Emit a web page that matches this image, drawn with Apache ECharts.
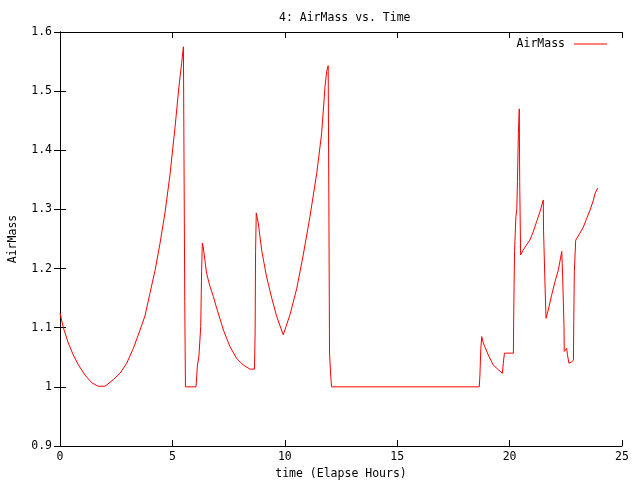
<!DOCTYPE html>
<html>
<head>
<meta charset="utf-8">
<script src="https://cdn.jsdelivr.net/npm/echarts@6/dist/echarts.min.js"></script>
<style>html,body{margin:0;padding:0;background:#fff;}#c{width:640px;height:480px;}</style>
</head>
<body>
<div id="c"></div>
<script>
var titleText = '4: AirMass vs. Time';
var xName = 'time (Elapse Hours)';
var yName = 'AirMass';
var seriesName = 'AirMass';

var times = [0, 0.15, 0.37, 0.59, 0.82, 1.11, 1.41, 1.7, 2.0, 2.37, 2.67, 2.97, 3.26, 3.56, 3.78, 4.0, 4.23, 4.45, 4.67, 4.89, 5.12, 5.29, 5.41, 5.49,
  5.51, 5.55, 5.58, 6.05, 6.11, 6.18, 6.26, 6.30, 6.33, 6.37, 6.52, 6.67, 6.82, 6.97, 7.27, 7.56, 7.86, 8.15, 8.45, 8.65,
  8.68, 8.70, 8.73, 8.82, 8.97, 9.19, 9.42, 9.64, 9.93, 10.23, 10.53, 10.82, 11.12, 11.42, 11.64, 11.79, 11.86, 11.93,
  11.96, 11.99, 12.04, 12.08, 18.65, 18.68, 18.72, 18.76, 18.83, 19.05, 19.27, 19.5, 19.68, 19.72, 19.77, 20.17,
  20.18, 20.22, 20.28, 20.32, 20.35, 20.39, 20.43, 20.45, 20.49, 20.6, 20.75, 20.9, 21.05, 21.2, 21.35, 21.5,
  21.51, 21.58, 21.62, 21.72, 21.87, 22.02, 22.17, 22.32, 22.36, 22.42, 22.43, 22.54, 22.57, 22.64, 22.75, 22.84,
  22.85, 22.88, 22.94, 23.13, 23.28, 23.43, 23.58, 23.73, 23.8, 23.92];
var airmass = [1.125, 1.1, 1.074, 1.054, 1.037, 1.02, 1.007, 1.001, 1.001, 1.012, 1.023, 1.04, 1.065, 1.096, 1.12, 1.158, 1.197, 1.243, 1.294, 1.358, 1.44, 1.507, 1.547, 1.575,
  1.431, 1.144, 1.0, 1.0, 1.035, 1.052, 1.102, 1.195, 1.243, 1.237, 1.192, 1.17, 1.153, 1.133, 1.096, 1.068, 1.048, 1.037, 1.03, 1.03,
  1.093, 1.229, 1.294, 1.277, 1.231, 1.186, 1.15, 1.119, 1.088, 1.122, 1.166, 1.223, 1.288, 1.361, 1.429, 1.508, 1.533, 1.543,
  1.311, 1.057, 1.02, 1.0, 1.0, 1.02, 1.065, 1.085, 1.074, 1.054, 1.037, 1.029, 1.023, 1.04, 1.057, 1.057,
  1.113, 1.229, 1.288, 1.30, 1.347, 1.428, 1.47, 1.347, 1.223, 1.231, 1.24, 1.248, 1.262, 1.279, 1.296, 1.316,
  1.265, 1.167, 1.116, 1.13, 1.155, 1.178, 1.198, 1.229, 1.187, 1.102, 1.06, 1.065, 1.055, 1.04, 1.042, 1.045,
  1.096, 1.195, 1.248, 1.26, 1.27, 1.285, 1.299, 1.316, 1.327, 1.336];

var xMin = 0, xMax = 25, xStep = 5;
var yMin = 0.9, yMax = 1.6, yStep = 0.1;

var pts = times.map(function (t, i) { return [t, airmass[i]]; });
var mono = 'DejaVu Sans Mono';
var fs = 11.5;
var axisLine = { show: true, lineStyle: { color: '#000', width: 1 } };
var tick = { show: true, inside: true, length: 6, lineStyle: { color: '#000', width: 1 } };

var chart = echarts.init(document.getElementById('c'), null, { renderer: 'canvas' });
chart.setOption({
  animation: false,
  backgroundColor: '#fff',
  title: {
    text: titleText, left: 274, top: 7,
    textStyle: { fontFamily: mono, fontSize: fs, fontWeight: 'normal', color: '#000' }
  },
  legend: {
    data: [seriesName], right: 28, top: 33, align: 'right',
    icon: 'rect', itemWidth: 33, itemHeight: 1.2, itemGap: 0,
    textStyle: { fontFamily: mono, fontSize: fs, color: '#000', padding: [0, 4, 0, 0] }
  },
  grid: { left: 60, right: 18, top: 32, bottom: 34, containLabel: false, outerBoundsMode: 'none' },
  xAxis: [{
    type: 'value', min: xMin, max: xMax, interval: xStep, position: 'bottom',
    name: xName, nameLocation: 'middle', nameGap: 22,
    nameTextStyle: { fontFamily: mono, fontSize: fs, color: '#000' },
    axisLine: axisLine, axisTick: tick, splitLine: { show: false },
    axisLabel: { fontFamily: mono, fontSize: fs, color: '#000', margin: 5 }
  }, {
    type: 'value', min: xMin, max: xMax, interval: xStep, position: 'top',
    axisLine: axisLine, axisTick: tick, splitLine: { show: false }, axisLabel: { show: false }
  }],
  yAxis: [{
    type: 'value', min: yMin, max: yMax, interval: yStep, position: 'left',
    name: yName, nameLocation: 'middle', nameGap: 41,
    nameTextStyle: { fontFamily: mono, fontSize: fs, color: '#000' },
    axisLine: axisLine, axisTick: tick, splitLine: { show: false },
    axisLabel: { fontFamily: mono, fontSize: fs, color: '#000', margin: 8,
      formatter: function (v) { return String(+v.toFixed(1)); } }
  }, {
    type: 'value', min: yMin, max: yMax, interval: yStep, position: 'right',
    axisLine: axisLine, axisTick: tick, splitLine: { show: false }, axisLabel: { show: false }
  }],
  series: [{
    name: seriesName, type: 'line', data: pts, xAxisIndex: 0, yAxisIndex: 0,
    showSymbol: false, symbol: 'none',
    lineStyle: { color: '#ff0000', width: 1 }, itemStyle: { color: '#ff0000' }
  }]
});
</script>
</body>
</html>
